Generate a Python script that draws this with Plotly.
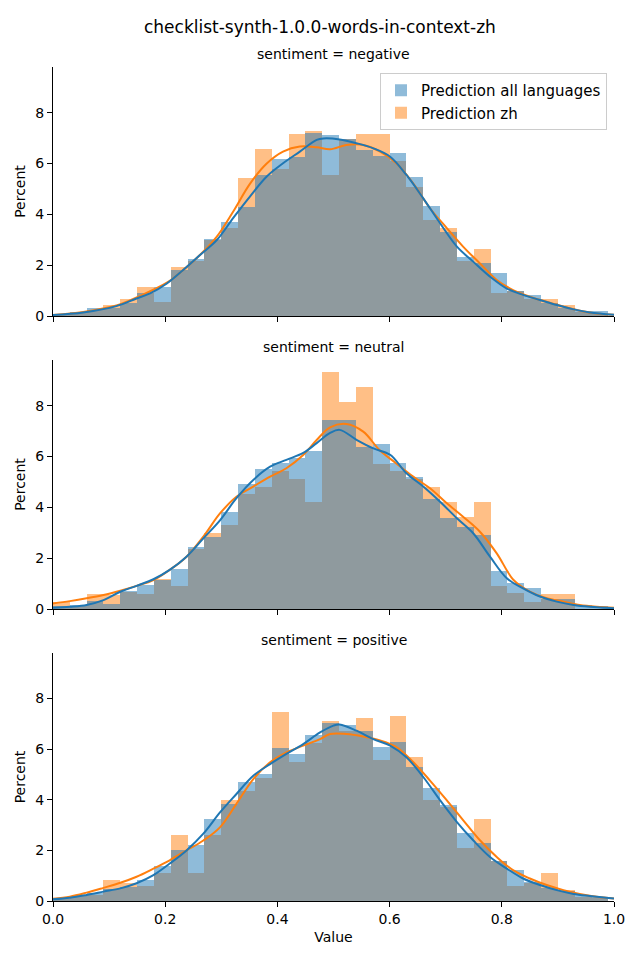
import plotly.graph_objects as go

# ---------------- data ----------------
bin_width = 0.03
bin_centers = [round(0.015 + 0.03 * i, 3) for i in range(33)]

panels = ["negative", "neutral", "positive"]

hist_all = {
    "negative": [0.05, 0.15, 0.3, 0.33, 0.5, 0.9, 1.14, 1.82, 2.23, 3.03, 3.70, 4.30, 5.55, 6.18, 6.27, 7.19,
                 7.13, 6.97, 6.54, 6.31, 6.40, 5.46, 4.33, 3.32, 2.32, 2.10, 1.69, 0.98, 0.83, 0.50, 0.30, 0.20, 0.20],
    "neutral": [0.1, 0.15, 0.3, 0.2, 0.7, 0.94, 1.14, 1.56, 2.43, 2.82, 3.81, 4.91, 5.51, 5.74, 5.96, 6.22,
                7.44, 7.44, 6.39, 6.50, 5.75, 5.18, 4.34, 3.59, 3.23, 2.91, 1.50, 1.02, 0.81, 0.39, 0.39, 0.16, 0.13],
    "positive": [0.1, 0.2, 0.3, 0.46, 0.54, 0.83, 1.39, 2.03, 2.20, 3.23, 3.85, 4.72, 5.0, 6.04, 5.81, 6.57,
                 7.03, 6.96, 6.73, 6.08, 6.30, 5.31, 4.45, 3.78, 2.69, 2.30, 1.6, 1.22, 0.76, 0.52, 0.4, 0.24, 0.17],
}
hist_zh = {
    "negative": [0.05, 0.1, 0.25, 0.45, 0.67, 1.14, 0.56, 1.93, 2.17, 2.98, 3.48, 5.45, 6.57, 5.80, 7.17, 7.28,
                 5.55, 6.95, 7.17, 7.17, 6.10, 5.09, 3.78, 3.48, 2.17, 2.64, 0.92, 0.98, 0.68, 0.67, 0.43, 0.15, 0.05],
    "neutral": [0.28, 0.1, 0.59, 0.55, 0.68, 0.59, 1.17, 0.91, 2.35, 2.98, 3.31, 4.53, 4.82, 5.43, 5.13, 4.22,
                9.33, 8.15, 8.75, 5.71, 5.45, 5.11, 4.80, 4.21, 3.62, 4.21, 0.91, 0.62, 0.29, 0.59, 0.59, 0.0, 0.0],
    "positive": [0.08, 0.18, 0.25, 0.83, 0.70, 0.59, 1.12, 2.60, 1.12, 2.60, 3.98, 4.34, 4.86, 7.45, 5.48, 6.23,
                 7.10, 6.73, 7.22, 5.59, 7.32, 5.71, 3.98, 3.71, 2.10, 3.23, 1.57, 0.59, 0.70, 1.10, 0.45, 0.15, 0.10],
}

# KDE curves
kde_all_x = {
    "negative": [0.0, 0.054, 0.113, 0.149, 0.173, 0.203, 0.232, 0.262, 0.292, 0.321, 0.351, 0.381, 0.41, 0.44,
                 0.47, 0.482, 0.511, 0.541, 0.571, 0.601, 0.63, 0.66, 0.69, 0.72, 0.749, 0.779, 0.809, 0.838,
                 0.868, 0.898, 0.928, 0.957, 1.0],
    "neutral": [0.0, 0.03, 0.06, 0.09, 0.12, 0.149, 0.179, 0.208, 0.238, 0.268, 0.298, 0.327, 0.357, 0.387,
                0.416, 0.446, 0.47, 0.494, 0.511, 0.541, 0.571, 0.601, 0.63, 0.66, 0.69, 0.72, 0.749, 0.779,
                0.809, 0.838, 0.868, 0.898, 0.928, 0.957, 1.0],
    "positive": [0.0, 0.03, 0.06, 0.09, 0.12, 0.149, 0.179, 0.208, 0.238, 0.268, 0.298, 0.327, 0.357, 0.387,
                 0.416, 0.446, 0.476, 0.5, 0.511, 0.541, 0.571, 0.601, 0.63, 0.66, 0.69, 0.72, 0.749, 0.779,
                 0.809, 0.838, 0.868, 0.898, 0.928, 0.957, 1.0],
}
kde_all_y = {
    "negative": [0.04, 0.14, 0.39, 0.69, 0.89, 1.28, 1.81, 2.4, 2.99, 3.85, 4.70, 5.49, 6.01, 6.47,
                 6.93, 6.99, 6.95, 6.8, 6.6, 6.27, 5.55, 4.63, 3.65, 2.73, 2.14, 1.55, 1.08, 0.83,
                 0.63, 0.43, 0.26, 0.14, 0.05],
    "neutral": [0.05, 0.09, 0.16, 0.35, 0.68, 0.91, 1.17, 1.54, 2.06, 2.78, 3.50, 4.36, 5.08, 5.6,
                5.87, 6.14, 6.53, 6.93, 7.05, 6.66, 6.32, 6.07, 5.34, 4.82, 4.22, 3.57, 2.98, 2.06,
                1.21, 0.81, 0.49, 0.29, 0.16, 0.09, 0.03],
    "positive": [0.07, 0.13, 0.24, 0.37, 0.50, 0.70, 1.02, 1.48, 2.0, 2.66, 3.51, 4.23, 4.95, 5.41,
                 5.81, 6.2, 6.66, 6.93, 6.97, 6.73, 6.4, 6.14, 5.68, 4.9, 3.98, 3.12, 2.4, 1.74,
                 1.28, 0.89, 0.63, 0.43, 0.28, 0.2, 0.1],
}
kde_zh_x = {
    "negative": [0.0, 0.054, 0.113, 0.149, 0.203, 0.232, 0.262, 0.292, 0.321, 0.351, 0.381, 0.41, 0.44,
                 0.47, 0.494, 0.523, 0.553, 0.583, 0.612, 0.642, 0.672, 0.702, 0.731, 0.761, 0.791, 0.82,
                 0.85, 0.88, 0.91, 0.939, 0.969, 1.0],
    "neutral": [0.0, 0.03, 0.06, 0.09, 0.12, 0.149, 0.179, 0.208, 0.238, 0.268, 0.298, 0.327, 0.357, 0.387,
                0.416, 0.446, 0.47, 0.494, 0.523, 0.553, 0.582, 0.612, 0.642, 0.672, 0.702, 0.731, 0.761,
                0.791, 0.821, 0.85, 0.88, 0.91, 0.939, 0.969, 1.0],
    "positive": [0.0, 0.03, 0.06, 0.09, 0.12, 0.149, 0.179, 0.208, 0.238, 0.268, 0.298, 0.327, 0.357, 0.387,
                 0.416, 0.446, 0.476, 0.494, 0.523, 0.553, 0.583, 0.612, 0.642, 0.672, 0.702, 0.731, 0.761,
                 0.791, 0.82, 0.85, 0.88, 0.91, 0.939, 0.969, 1.0],
}
kde_zh_y = {
    "negative": [0.04, 0.16, 0.41, 0.73, 1.31, 1.81, 2.4, 3.12, 4.1, 5.2, 6.0, 6.47, 6.67,
                 6.64, 6.56, 6.73, 6.73, 6.47, 6.01, 5.22, 4.24, 3.46, 2.73, 2.07, 1.42, 1.02,
                 0.76, 0.56, 0.37, 0.21, 0.10, 0.05],
    "neutral": [0.22, 0.31, 0.42, 0.55, 0.72, 0.91, 1.14, 1.54, 2.06, 2.85, 3.77, 4.42, 4.82, 5.21,
                5.54, 6.06, 6.65, 7.15, 7.28, 6.98, 6.26, 5.73, 5.21, 4.75, 4.16, 3.63, 3.04,
                2.19, 1.14, 0.68, 0.42, 0.29, 0.16, 0.09, 0.05],
    "positive": [0.09, 0.17, 0.33, 0.52, 0.72, 0.96, 1.28, 1.61, 2.0, 2.39, 2.92, 3.84, 4.82, 5.48,
                 5.87, 6.14, 6.4, 6.6, 6.6, 6.5, 6.34, 6.08, 5.49, 4.76, 3.98, 3.2, 2.4, 1.74,
                 1.22, 0.89, 0.63, 0.43, 0.28, 0.17, 0.1],
}

x_ticks = [0.0, 0.2, 0.4, 0.6, 0.8, 1.0]
y_ticks = [0, 2, 4, 6, 8]

# ---------------- styling ----------------
W, H = 640, 960
OFF = 8  # page body margin offset
BLUE = "#1f77b4"
ORANGE = "#ff7f0e"
BLUE_BAR = "#8fbbd9"
ORANGE_BAR = "#ffbf86"
OVERLAP = "#8f9a9e"
FONT = "DejaVu Sans"


def px_x(v):
    return (v - OFF) / W


def px_y(v):
    return 1 - (v - OFF) / H


x_dom = [px_x(53), px_x(614)]
panel_px = [(67, 316), (360, 609), (653, 901)]

fig = go.Figure()

for k, p in enumerate(panels):
    xa = "x" if k == 0 else f"x{k+1}"
    ya = "y" if k == 0 else f"y{k+1}"
    a = hist_all[p]
    z = hist_zh[p]
    ov = [min(u, v) for u, v in zip(a, z)]
    fig.add_trace(go.Bar(x=bin_centers, y=a, width=bin_width, marker=dict(color=BLUE_BAR, line=dict(width=0)),
                         name="Prediction all languages", showlegend=(k == 0), legendgroup="all",
                         xaxis=xa, yaxis=ya))
    fig.add_trace(go.Bar(x=bin_centers, y=z, width=bin_width, marker=dict(color=ORANGE_BAR, line=dict(width=0)),
                         name="Prediction zh", showlegend=(k == 0), legendgroup="zh",
                         xaxis=xa, yaxis=ya))
    fig.add_trace(go.Bar(x=bin_centers, y=ov, width=bin_width, marker=dict(color=OVERLAP, line=dict(width=0)),
                         showlegend=False, hoverinfo="skip", xaxis=xa, yaxis=ya))
    fig.add_trace(go.Scatter(x=kde_zh_x[p], y=kde_zh_y[p], mode="lines", line=dict(color=ORANGE, width=2, shape="spline"),
                             showlegend=False, xaxis=xa, yaxis=ya))
    fig.add_trace(go.Scatter(x=kde_all_x[p], y=kde_all_y[p], mode="lines", line=dict(color=BLUE, width=2, shape="spline"),
                             showlegend=False, xaxis=xa, yaxis=ya))

layout = dict(
    width=W, height=H,
    margin=dict(l=0, r=0, t=0, b=0),
    paper_bgcolor="white", plot_bgcolor="white",
    barmode="overlay", bargap=0,
    font=dict(family=FONT, size=14, color="black"),
    showlegend=True,
    legend=dict(x=px_x(607), y=px_y(73), xanchor="right", yanchor="top",
                bgcolor="rgba(255,255,255,0.8)", bordercolor="#cccccc", borderwidth=1,
                font=dict(size=15, family=FONT), traceorder="normal"),
    annotations=[],
)

for k, p in enumerate(panels):
    top, bot = panel_px[k]
    xkey = "xaxis" if k == 0 else f"xaxis{k+1}"
    ykey = "yaxis" if k == 0 else f"yaxis{k+1}"
    yref = "y" if k == 0 else f"y{k+1}"
    layout[xkey] = dict(domain=x_dom, range=[0, 1], anchor=yref, tickvals=x_ticks,
                        ticktext=[f"{v:.1f}" for v in x_ticks], showticklabels=(k == 2),
                        showline=True, linecolor="black", linewidth=1, ticks="outside", ticklen=5,
                        tickwidth=1, tickcolor="black", showgrid=False, zeroline=False, automargin=False,
                        tickfont=dict(size=14),
                        title=dict(text="Value", font=dict(size=14), standoff=6) if k == 2 else None)
    layout[ykey] = dict(domain=[px_y(bot), px_y(top)], range=[0, 9.8], anchor="x" if k == 0 else f"x{k+1}",
                        tickvals=y_ticks, showline=True, linecolor="black", linewidth=1, ticks="outside",
                        ticklen=5, tickwidth=1, tickcolor="black", showgrid=False, zeroline=False,
                        automargin=False, tickfont=dict(size=14),
                        title=dict(text="Percent", font=dict(size=14), standoff=6))
    layout["annotations"].append(dict(text=f"sentiment = {p}", x=(x_dom[0] + x_dom[1]) / 2, y=px_y(top - 13),
                                      xref="paper", yref="paper", showarrow=False, xanchor="center",
                                      yanchor="middle", font=dict(size=14)))

layout["annotations"].append(dict(text="checklist-synth-1.0.0-words-in-context-zh", x=px_x(320), y=px_y(27),
                                  xref="paper", yref="paper", showarrow=False, xanchor="center",
                                  yanchor="middle", font=dict(size=17)))

fig.update_layout(**layout)
fig.write_html("out.html")
